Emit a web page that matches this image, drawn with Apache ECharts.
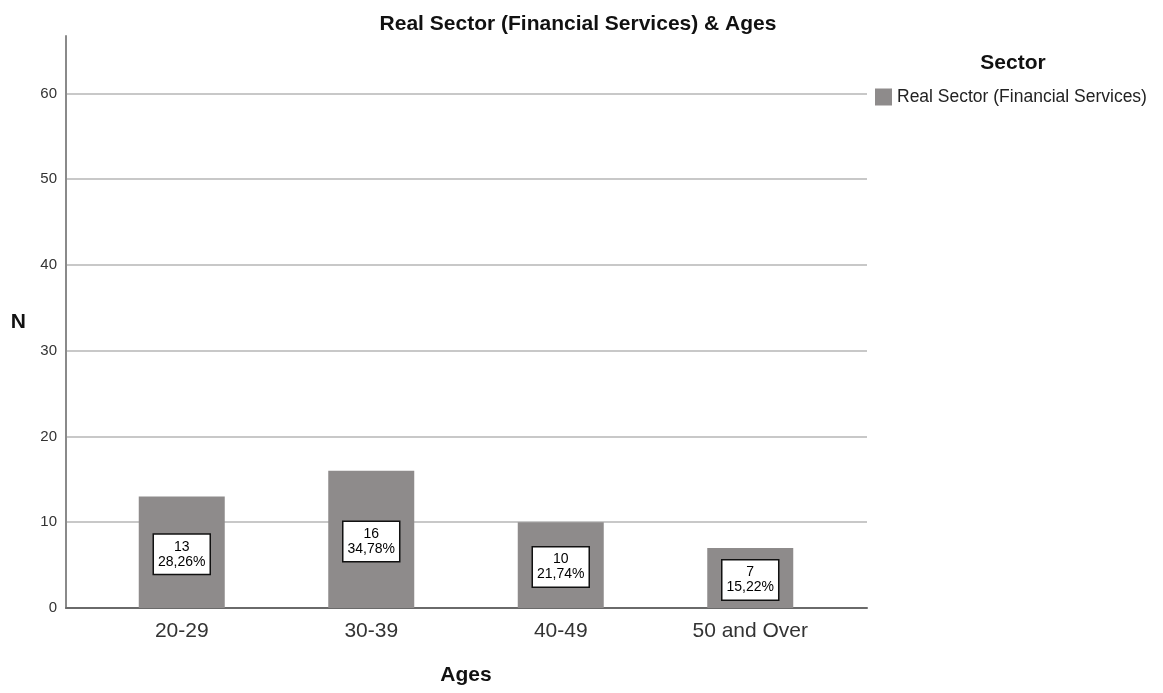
<!DOCTYPE html>
<html>
<head>
<meta charset="utf-8">
<script src="https://cdn.jsdelivr.net/npm/echarts@6/dist/echarts.min.js"></script>
<style>
  html, body { margin: 0; padding: 0; background: #fff; }
  #main { width: 1163px; height: 693px; }
</style>
</head>
<body>
<div id="main"></div>
<script>
// 数据
var ages = ['20-29', '30-39', '40-49', '50 and Over'];
var counts = [13, 16, 10, 7];
var seriesName = 'Real Sector (Financial Services)';
var yTicks = [0, 10, 20, 30, 40, 50, 60];

var total = counts.reduce(function (a, b) { return a + b; }, 0);

var myChart = echarts.init(document.getElementById('main'));

var font = 'Arial, "Liberation Sans", sans-serif';

var option = {
    animation: false,
    textStyle: { fontFamily: font },
    title: [{
        text: 'Real Sector (Financial Services) & Ages',
        left: 573, top: 9,
        textAlign: 'center',
        textStyle: { fontSize: 21, fontWeight: 'bold', color: '#111', fontFamily: font }
    }, {
        text: 'Sector',
        left: 1008, top: 48,
        textAlign: 'center',
        textStyle: { fontSize: 21, fontWeight: 'bold', color: '#111', fontFamily: font }
    }],
    legend: {
        left: 870, top: 83,
        itemWidth: 17, itemHeight: 17,
        itemGap: 5,
        icon: 'rect',
        textStyle: { fontSize: 17.5, color: '#222', fontFamily: font },
        data: [seriesName]
    },
    // grid 0: 坐标轴和网格线, grid 1: 柱子
    grid: [
        { left: 66, right: 296, top: 36, bottom: 85 },
        { left: 87, right: 318, top: 36, bottom: 85 }
    ],
    xAxis: [{
        gridIndex: 0,
        type: 'category',
        data: ages,
        axisLine: { lineStyle: { color: '#6a6a6a', width: 2 } },
        axisTick: { show: false },
        axisLabel: { show: false }
    }, {
        gridIndex: 1,
        type: 'category',
        data: ages,
        name: 'Ages',
        nameLocation: 'middle',
        nameGap: 57,
        nameTextStyle: { fontSize: 21, fontWeight: 'bold', color: '#111' },
        axisLine: { show: false },
        axisTick: { show: false },
        axisLabel: { fontSize: 21, color: '#333', margin: 13 }
    }],
    yAxis: [{
        gridIndex: 0,
        type: 'value',
        min: 0,
        max: 66.7,
        interval: 10,
        name: 'N',
        nameLocation: 'middle',
        nameGap: 40,
        nameRotate: 0,
        nameTextStyle: { fontSize: 21, fontWeight: 'bold', color: '#111' },
        axisLine: { show: true, lineStyle: { color: '#8a8a8a', width: 2 } },
        axisTick: { show: false },
        axisLabel: {
            fontSize: 15, color: '#333', margin: 9,
            showMaxLabel: false,
            formatter: function (v) { return yTicks.indexOf(v) >= 0 ? v : ''; }
        },
        splitLine: {
            show: true,
            showMaxLine: false,
            lineStyle: { color: '#c8c8c8', width: 2 }
        }
    }, {
        gridIndex: 1,
        type: 'value',
        min: 0,
        max: 66.7,
        show: false,
        splitLine: { show: false }
    }],
    series: [{
        name: seriesName,
        type: 'bar',
        xAxisIndex: 1,
        yAxisIndex: 1,
        barWidth: 86,
        itemStyle: { color: '#8e8b8b' },
        label: {
            show: true,
            position: 'inside',
            offset: [0, 2],
            formatter: function (p) {
                return p.value + '\n' + (p.value / total * 100).toFixed(2).replace('.', ',') + '%';
            },
            fontSize: 14,
            lineHeight: 15,
            color: '#000',
            backgroundColor: '#fff',
            borderColor: '#111',
            borderWidth: 1.5,
            padding: [5, 4, 4, 4]
        },
        data: counts
    }]
};

myChart.setOption(option);

window.addEventListener('resize', function () {
    myChart.resize();
});
</script>
</body>
</html>
